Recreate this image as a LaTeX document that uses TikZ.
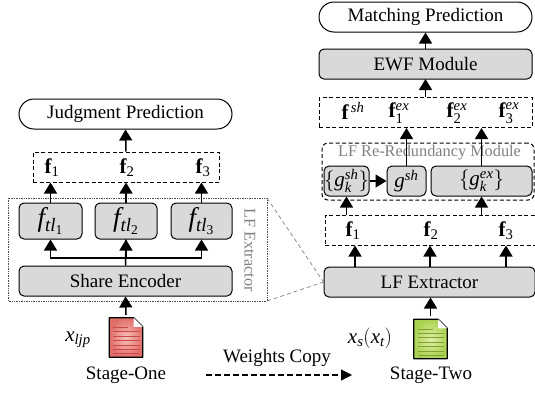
\documentclass[tikz,border=0pt]{standalone}
\usepackage{fontspec}
\setmainfont{Liberation Serif}
\usepackage{amsmath}
\usetikzlibrary{
	arrows.meta,									% arrow tips
	calc,											% doc icon corners
	shapes.misc,									% rounded rectangle
}
\definecolor{boxgray}{RGB}{217,217,217}
\definecolor{labelgray}{RGB}{128,128,128}
\definecolor{docred}{RGB}{205,70,75}
\definecolor{redlight}{RGB}{245,195,185}
\definecolor{reddark}{RGB}{225,110,105}
\definecolor{docgreen}{RGB}{130,160,50}
\definecolor{greenlight}{RGB}{225,240,170}
\definecolor{greendark}{RGB}{170,210,80}
\tikzset{
	txt/.style={font=\fontsize{19}{21}\selectfont, inner sep=0pt},
	faintxt/.style={font=\fontsize{16.3}{18}\selectfont, inner sep=0pt, labelgray},
	bigmath/.style={font=\fontsize{21}{23}\selectfont, inner sep=0pt},
	hugemath/.style={font=\fontsize{27}{29}\selectfont, inner sep=0pt},
	pill/.style={txt, rounded rectangle, draw, line width=1pt, fill=white, minimum width=213pt, minimum height=30pt},
	graybox/.style={rectangle, rounded corners=5pt, draw, line width=1pt, fill=boxgray, inner sep=0pt, minimum height=#1},
	graybox/.default=30pt,
	dashbox/.style={rectangle, draw, line width=1pt, dash pattern=on 4pt off 2.5pt, minimum height=30pt},
	arr/.style={line width=1.5pt, -{Triangle[length=11pt, width=13pt]}},
	link/.style={line width=1.5pt},
	fadedash/.style={labelgray, line width=0.7pt, dash pattern=on 4pt off 3pt},
}
% document icon drawn inside a named empty node
\newcommand{\docicon}[3]{%
	\node (#1) at (#2) [minimum width=33pt, minimum height=39pt, inner sep=0pt] {};
	\path[draw, line width=1.3pt, inner color=#3light, outer color=#3dark,
		line join=round]
		(#1.north west) -- ($(#1.north east)+(-9,0)$) -- ($(#1.north east)+(0,9)$)
		-- (#1.south east) -- (#1.south west) -- cycle;
	\fill[white] ($(#1.north east)+(-9,0)$) -- ($(#1.north east)+(0,9)$) -- ($(#1.north east)+(-9,9)$) -- cycle;
	\draw[doc#3, line width=0.8pt] ($(#1.north west)+(4,10)$) -- ($(#1.north west)+(19,10)$);
	\foreach \rowy in {14,18.5,23,27.5,32,36}
		\draw[doc#3, line width=0.8pt] ($(#1.north west)+(4,\rowy)$) -- ($(#1.north east)+(-3,\rowy)$);
}
\begin{document}
\begin{tikzpicture}[x=1pt, y=-1pt]
	\useasboundingbox (0,0) rectangle (535,392);

	% stage one
	\draw[densely dotted, line width=0.7pt, labelgray!60!black] (8,198) rectangle (267,301);
	\node (judge) at (125.5,114) [pill] {Judgment Prediction};
	\node (fleft) at (126,167) [dashbox, minimum width=186pt] {};
	\node (fa) at (52,168) [bigmath] {$\mathbf{f}_{\mathrm{1}}$};
	\node (fb) at (127,168) [bigmath] {$\mathbf{f}_{\mathrm{2}}$};
	\node (fc) at (203,168) [bigmath] {$\mathbf{f}_{\mathrm{3}}$};
	\node (tla) at (50.5,221) [graybox=36pt, hugemath, minimum width=63pt] {$\mathit{f}_{\mathit{tl}_{\mathrm{1}}}$};
	\node (tlb) at (126,221) [graybox=36pt, hugemath, minimum width=62pt] {$\mathit{f}_{\mathit{tl}_{\mathrm{2}}}$};
	\node (tlc) at (201.5,221) [graybox=36pt, hugemath, minimum width=61pt] {$\mathit{f}_{\mathit{tl}_{\mathrm{3}}}$};
	\node (share) at (125.5,281) [graybox, txt, minimum width=213pt] {Share Encoder};
	\node (extlabel) at (250,250) [faintxt, rotate=-90] {LF Extractor};
	\docicon{docone}{126,337.5}{red}
	\node (xljp) at (78,340) [bigmath] {$\mathit{x}_{\mathit{ljp}}$};
	\node (stageone) at (126,375) [txt] {Stage-One};

	\draw[arr] (fleft.north) -- (judge.south);
	\draw[arr] (tla.north) -- (tla.north |- fleft.south);
	\draw[arr] (tlb.north) -- (tlb.north |- fleft.south);
	\draw[arr] (tlc.north) -- (tlc.north |- fleft.south);
	\draw[link] (share.north) -- (tlb.south);
	\draw[arr] (tlb.south |- 0,258) -- (tlb.south);
	\draw[arr] (tlb.south |- 0,258) -| (tla.south);
	\draw[arr] (tlb.south |- 0,258) -| (tlc.south);
	\draw[arr] (docone.north) ++(0,-3) -- (share.south);

	% stage two
	\node (match) at (425.5,17) [pill] {Matching Prediction};
	\node (ewf) at (425.5,64) [graybox, txt, minimum width=213pt] {EWF Module};
	\node (ftop) at (425.5,112.5) [dashbox, minimum width=213pt] {};
	\node (fsh) at (353,111) [bigmath] {$\mathbf{f}^{\,\mathit{sh}}$};
	\node (fxa) at (399,113) [bigmath] {$\mathbf{f}_{\mathrm{1}}^{\mathit{ex}}$};
	\node (fxb) at (457,113) [bigmath] {$\mathbf{f}_{\mathrm{2}}^{\mathit{ex}}$};
	\node (fxc) at (509,113) [bigmath] {$\mathbf{f}_{\mathrm{3}}^{\mathit{ex}}$};
	\node (redund) at (428,171.5) [rectangle, rounded corners=6pt, draw, line width=1pt, dash pattern=on 4pt off 2.5pt, minimum width=212pt, minimum height=57pt] {};
	\node (redlabel) at (429.5,153) [faintxt] {LF Re-Redundancy Module};
	\node (gka) at (346.5,181) [graybox, bigmath, minimum width=45pt] {$\{\mathit{g}_{\mathit{k}}^{\mathit{sh}}\}$};
	\node (gsh) at (406.5,181) [graybox, bigmath, minimum width=39pt] {$\mathit{g}^{\mathit{sh}}$};
	\node (gkb) at (481.5,181) [graybox, bigmath, minimum width=101pt] {$\{\mathit{g}_{\mathit{k}}^{\mathit{ex}}\}$};
	\node (flow) at (430,230) [dashbox, minimum width=210pt] {};
	\node (fla) at (353,231) [bigmath] {$\mathbf{f}_{\mathrm{1}}$};
	\node (flb) at (431,231) [bigmath] {$\mathbf{f}_{\mathrm{2}}$};
	\node (flc) at (506,231) [bigmath] {$\mathbf{f}_{\mathrm{3}}$};
	\node (lfext) at (429.5,282) [graybox, txt, minimum width=211pt] {LF Extractor};
	\docicon{doctwo}{430.5,339}{green}
	\node (xsxt) at (370,338) [bigmath] {$\mathit{x}_{\mathit{s}}(\mathit{x}_{\mathit{t}})$};
	\node (stagetwo) at (431,375) [txt] {Stage-Two};

	\draw[arr] (ewf.north) -- (match.south);
	\draw[arr] (ftop.north) -- (ewf.north |- 0,79);
	\draw[arr] (gsh.north) -- (gsh.north |- ftop.south);
	\draw[arr] (gkb.north) -- (gkb.north |- ftop.south);
	\draw[arr] (gka.east) -- (gsh.west);
	\draw[arr] (gka.south |- flow.north) -- (gka.south);
	\draw[arr] (gkb.south |- flow.north) -- (gkb.south);
	\draw[arr] (355,267) coordinate (lfa) -- (lfa |- flow.south);
	\draw[arr] (lfext.north) ++(0.5,0) coordinate (lfb) -- (lfb |- flow.south);
	\draw[arr] (506,267) coordinate (lfc) -- (lfc |- flow.south);
	\draw[arr] (doctwo.north) ++(0,-3) -- (doctwo.north |- lfext.south);

	% zoom lines and copy arrow
	\draw[fadedash] (267,198) -- (lfext.west);
	\draw[fadedash] (267,301) -- (lfext.west);
	\node (copylabel) at (277,358) [txt] {Weights Copy};
	\coordinate (copystart) at (206,375);
	\coordinate (copyend) at (352,375);
	\draw[line width=1.2pt, dash pattern=on 5.5pt off 3.5pt, -{Triangle[length=11pt, width=11pt]}] (copystart) -- (copyend);
\end{tikzpicture}
\end{document}
